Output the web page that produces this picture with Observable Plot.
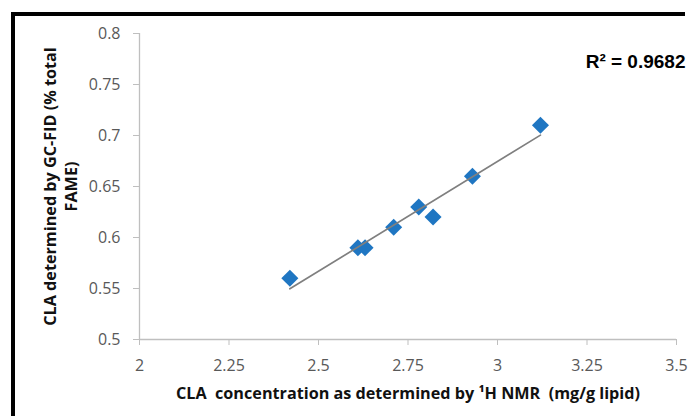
<!DOCTYPE html>
<html>
<head>
<meta charset="utf-8">
<script src="https://cdn.jsdelivr.net/npm/d3@7"></script>
<script src="https://cdn.jsdelivr.net/npm/@observablehq/plot@0.6"></script>
<style>
  html, body { margin: 0; padding: 0; background: #fff; }
  #wrap { position: relative; width: 695px; height: 416px; overflow: hidden; }
  #frame { position: absolute; left: 11px; top: 12px; width: 670px; height: 420px;
           border-top: 4px solid #000; border-left: 4px solid #000; pointer-events: none; }
  #chart { position: absolute; left: 0; top: 0; }
</style>
</head>
<body>
<div id="wrap"><div id="chart"></div><div id="frame"></div></div>
<script>
const nmrConc = [2.42, 2.61, 2.63, 2.71, 2.78, 2.82, 2.93, 3.12];
const gcFid   = [0.56, 0.59, 0.59, 0.61, 0.63, 0.62, 0.66, 0.71];
const xTicks = [2, 2.25, 2.5, 2.75, 3, 3.25, 3.5];
const yTicks = [0.5, 0.55, 0.6, 0.65, 0.7, 0.75, 0.8];
const xTitle = "CLA  concentration as determined by \u00b9H NMR  (mg/g lipid)";
const yTitle = "CLA determined by GC-FID (% total\nFAME)";
const r2Label = "R\u00b2 = 0.9682";

const data = nmrConc.map((x, i) => ({x, y: gcFid[i]}));

const diamond = {
  draw(ctx, size) {
    const h = Math.sqrt(size / 2);
    ctx.moveTo(0, -h); ctx.lineTo(h, 0); ctx.lineTo(0, h); ctx.lineTo(-h, 0); ctx.closePath();
  }
};

const font = "'Open Sans', sans-serif";

const chart = Plot.plot({
  width: 695,
  height: 416,
  marginLeft: 139,
  marginRight: 19,
  marginTop: 33,
  marginBottom: 77,
  style: {fontFamily: font, background: "transparent"},
  x: {domain: [2, 3.5]},
  y: {domain: [0.5, 0.8]},
  marks: [
    Plot.ruleY([0.5], {stroke: "#bfbfbf", strokeWidth: 1.3}),
    Plot.ruleX([2], {stroke: "#bfbfbf", strokeWidth: 1.3}),
    Plot.axisX({ticks: xTicks, tickFormat: d => String(d), tickSize: 6, tickPadding: 14,
      stroke: "#bfbfbf", fill: "#595959", fontSize: 16, label: null}),
    Plot.axisY({ticks: yTicks, tickFormat: d => String(d), tickSize: 6, tickPadding: 13,
      stroke: "#bfbfbf", fill: "#595959", fontSize: 16, label: null}),
    Plot.dot(data, {x: "x", y: "y", symbol: diamond, r: 6.8, fill: "#1f76c2", stroke: null}),
    Plot.linearRegressionY(data, {x: "x", y: "y", stroke: "#7f7f7f", strokeWidth: 1.7, ci: 0}),
    Plot.text([xTitle], {frameAnchor: "bottom", dy: 54.5, lineAnchor: "middle",
      fontSize: 16.2, fontWeight: "bold", fill: "#111"}),
    Plot.text([yTitle], {frameAnchor: "left", dx: -80, rotate: -90, textAnchor: "middle",
      lineAnchor: "middle", lineHeight: 1.35, fontSize: 16.2, fontWeight: "bold", fill: "#111"}),
    Plot.text([r2Label], {frameAnchor: "top-right", dx: 9, dy: 28.5, textAnchor: "end",
      lineAnchor: "middle", fontSize: 19, fontWeight: "bold", fill: "#000",
      fontFamily: "'Liberation Sans', Arial, sans-serif"})
  ]
});
document.getElementById("chart").appendChild(chart);
</script>
</body>
</html>
